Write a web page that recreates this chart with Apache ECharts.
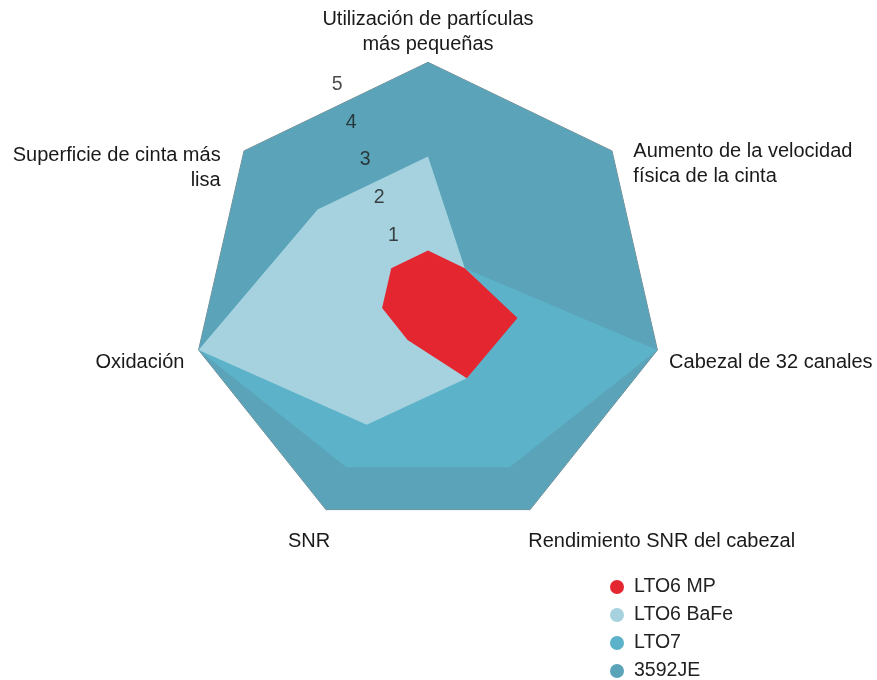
<!DOCTYPE html>
<html>
<head>
<meta charset="utf-8">
<script src="https://cdn.jsdelivr.net/npm/echarts@6/dist/echarts.min.js"></script>
<style>
html,body{margin:0;padding:0;background:#fff;}
#chart{width:877px;height:680px;}
</style>
</head>
<body>
<div id="chart"></div>
<script>
// Indicators in counter-clockwise order starting at the top
const indicators = [
  'Utilización de partículas\nmás pequeñas',
  'Superficie de cinta más\nlisa',
  'Oxidación',
  'SNR',
  'Rendimiento SNR del cabezal',
  'Cabezal de 32 canales',
  'Aumento de la velocidad\nfísica de la cinta'
];
const seriesNames = ['LTO6 MP', 'LTO6 BaFe', 'LTO7', '3592JE'];
const valuesLTO6MP   = [1, 1, 1, 1, 1.9, 1.95, 1];
const valuesLTO6BaFe = [3, 3, 5, 3, 1.9, 1.9, 1];
const valuesLTO7     = [3, 3, 5, 4, 4, 5, 1];
const values3592JE   = [5, 5, 5, 5, 5, 5, 5];
const scaleTicks = [1, 2, 3, 4, 5];
const scaleMax = 5;

const colors = {
  'LTO6 MP': '#E42631',
  'LTO6 BaFe': '#A5D2DE',
  'LTO7': '#5CB2C8',
  '3592JE': '#5BA3B8'
};
const FONT = '"Liberation Sans", Arial, sans-serif';
const FS = 20;
const LFS = 19.5;
// fine shifts [dx, dy] of each indicator name from its default place
const nameShift = [[0, 7], [-14, 25], [-2.5, 10], [9.5, 21], [-7, 21], [0, 10], [12, 21]];

const rich = {};
nameShift.forEach(function (s, i) {
  const dx = s[0], dy = s[1];
  const align = i === 0 ? 'center' : (i <= 3 ? 'right' : 'left');
  let pl = 0, pr = 0;
  if (align === 'left') pl = dx;
  else if (align === 'right') pr = -dx;
  else pl = 2 * dx;
  rich['n' + i] = {
    fontSize: FS, fontFamily: FONT, color: '#1a1a1a', lineHeight: 25,
    padding: [dy > 0 ? 2 * dy : 0, pr, dy < 0 ? -2 * dy : 0, pl]
  };
});

const chart = echarts.init(document.getElementById('chart'), null, {renderer: 'canvas'});

const drawOrder = [
  {name: '3592JE', value: values3592JE},
  {name: 'LTO7', value: valuesLTO7},
  {name: 'LTO6 BaFe', value: valuesLTO6BaFe},
  {name: 'LTO6 MP', value: valuesLTO6MP}
];

const option = {
  backgroundColor: '#ffffff',
  animation: false,
  legend: {
    data: seriesNames,
    orient: 'vertical',
    left: 610,
    top: 577,
    width: 250,
    height: 140,
    padding: 0,
    icon: 'circle',
    itemWidth: 14,
    itemHeight: 14,
    itemGap: 8,
    textStyle: {fontSize: LFS, color: '#222', fontFamily: FONT, padding: [0, 0, 0, 5]}
  },
  radar: {
    center: [428, 297.6],
    radius: 235.3,
    startAngle: 90,
    shape: 'polygon',
    splitNumber: 5,
    indicator: indicators.map(n => ({name: n, min: 0, max: scaleMax})),
    axisName: {
      color: '#1a1a1a', fontSize: FS, fontFamily: FONT, lineHeight: 25,
      formatter: function (name) {
        const i = indicators.indexOf(name);
        return name.split('\n').map(l => '{n' + i + '|' + l + '}').join('\n');
      },
      rich: rich
    },
    nameGap: 12,
    splitLine: {show: false},
    splitArea: {show: false},
    axisLine: {show: false},
    axisTick: {show: false},
    axisLabel: {show: false}
  },
  // hidden polar system that carries the slanted scale labels 1..5
  polar: {center: [407.3, 273.6], radius: 201.8},
  angleAxis: {type: 'value', min: 0, max: 360, startAngle: 110.3, show: false},
  radiusAxis: {type: 'value', min: 0, max: scaleMax, show: false},
  series: [
    {
      type: 'radar',
      radarIndex: 0,
      symbol: 'none',
      data: drawOrder.map(d => ({
        name: d.name,
        value: d.value,
        itemStyle: {color: colors[d.name]},
        lineStyle: d.name === '3592JE' ? {width: 0.7, color: '#3a4a50'} : {width: 0, opacity: 0},
        areaStyle: {color: colors[d.name], opacity: 1}
      }))
    },
    {
      type: 'scatter',
      name: 'scale',
      coordinateSystem: 'polar',
      symbolSize: 0,
      silent: true,
      data: scaleTicks.map(v => [v, 0]),
      label: {
        show: true,
        position: 'inside',
        align: 'center',
        verticalAlign: 'middle',
        fontSize: LFS,
        color: '#1a1a1a',
        textBorderWidth: 0,
        fontFamily: FONT,
        formatter: p => String(p.value[0])
      }
    }
  ]
};
chart.setOption(option);
</script>
</body>
</html>
